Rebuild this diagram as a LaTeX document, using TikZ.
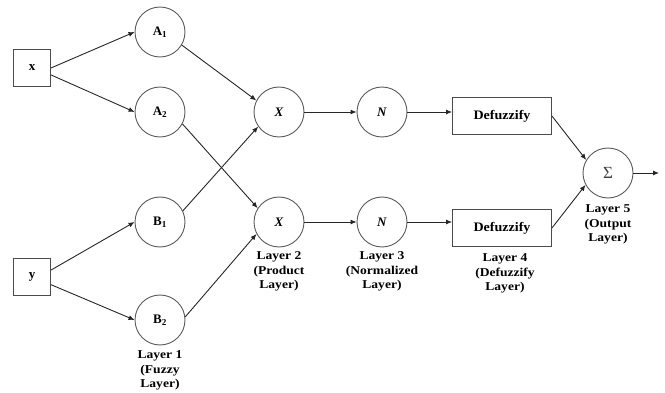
\documentclass[tikz,border=0pt]{standalone}
\usepackage{fontspec}
\setmainfont{Liberation Serif}
\newfontfamily\capfont[FakeStretch=1.13]{Liberation Serif}
\newfontfamily\boxfont[FakeStretch=1.08]{Liberation Serif}
\usetikzlibrary{arrows.meta}
\begin{document}
\begin{tikzpicture}[x=1pt,y=-1pt,
  line width=0.9pt,
  every node/.style={font=\fontsize{13}{14}\selectfont\bfseries},
  inbox/.style={draw=black!70, minimum width=37pt, minimum height=37pt, inner sep=0pt},
  unit/.style={draw=black!65, circle, minimum size=50pt, inner sep=0pt},
  defbox/.style={draw=black!70, minimum width=99pt, minimum height=37pt, inner sep=0pt,
    font=\boxfont\fontsize{13}{14}\selectfont\bfseries},
  layerlabel/.style={align=center, anchor=north, inner sep=0pt,
    font=\capfont\fontsize{12}{14.8}\selectfont\bfseries},
  arr/.style={draw=black!85, -{Latex[length=6pt,width=5pt]}}]
\useasboundingbox (0,0) rectangle (665,393);

% inputs
\node[inbox] (x) at (32,68) {x};
\node[inbox] (y) at (32,277) {y};

% layer 1: membership functions
\node[unit] (A1) at (160,32) {A\textsubscript{1}};
\node[unit] (A2) at (160,112) {A\textsubscript{2}};
\node[unit] (B1) at (160,222) {B\textsubscript{1}};
\node[unit] (B2) at (160,320) {B\textsubscript{2}};

% layer 2: product
\node[unit] (Xt) at (279,112) {\textit{X}};
\node[unit] (Xb) at (279,222) {\textit{X}};

% layer 3: normalisation
\node[unit] (Nt) at (382,112) {\textit{N}};
\node[unit] (Nb) at (382,222) {\textit{N}};

% layer 4: defuzzification
\node[defbox] (Dt) at (502,116) {Defuzzify};
\node[defbox] (Db) at (502,228) {Defuzzify};

% layer 5: summation
\node[unit, font=\fontsize{17}{18}\selectfont, text=black!75] (S) at (608,173) {Σ};
\coordinate (out) at (659,173);

% connections
\draw[arr] (x.east) -- (A1.west);
\draw[arr] (x.-20) -- (A2.west);
\draw[arr] (y.20) -- (B1.west);
\draw[arr] (y.-22) -- (B2.west);

\draw[arr] (A1.-31) -- (Xt.153);
\draw[arr] (A2.-28) -- (Xb.147);
\draw[arr] (B1.26) -- (Xt.-145);
\draw[arr] (B2.7) -- (Xb.-152);

\draw[arr] (Xt) -- (Nt);
\draw[arr] (Xb) -- (Nb);
\draw[arr] (Nt.east) -- (Dt.west |- Nt.east);
\draw[arr] (Nb.east) -- (Db.west |- Nb.east);

\draw[arr] (Dt.east) -- (S.149);
\draw[arr] (Db.east) -- (S.-152);
\draw[arr] (S.east) -- (out);

% layer captions
\node[layerlabel] (L1) at (160,350) {Layer 1\\(Fuzzy\\Layer)};
\node[layerlabel] (L2) at (279,251) {Layer 2\\(Product\\Layer)};
\node[layerlabel] (L3) at (382,251) {Layer 3\\(Normalized\\Layer)};
\node[layerlabel] (L4) at (505,253) {Layer 4\\(Defuzzify\\Layer)};
\node[layerlabel] (L5) at (608,204) {Layer 5\\(Output\\Layer)};
\end{tikzpicture}
\end{document}
